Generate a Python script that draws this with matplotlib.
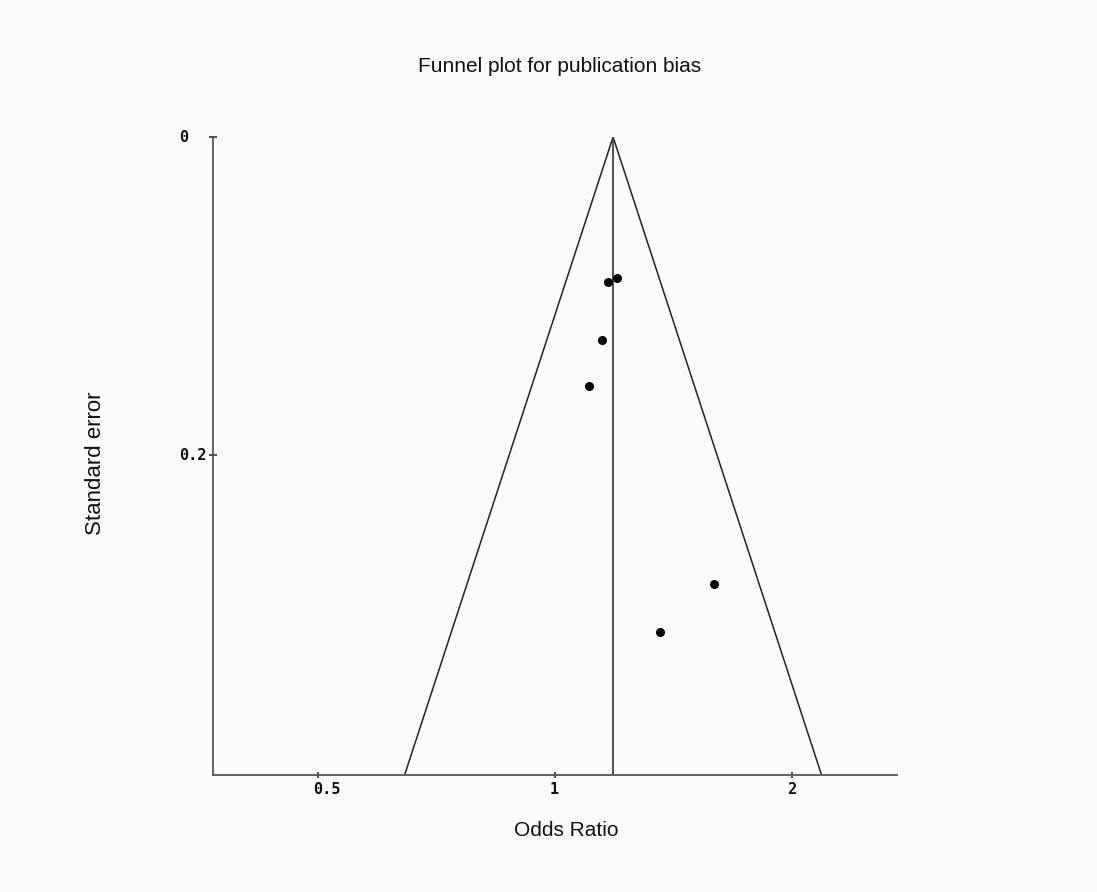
import numpy as np
import matplotlib
matplotlib.use('Agg')
import matplotlib.pyplot as plt
import matplotlib.transforms as mtransforms
from matplotlib.ticker import FixedLocator, NullLocator

# study estimates: odds ratios and their standard errors
odds_ratio = [1.166, 1.198, 1.146, 1.103, 1.591, 1.360]
std_error = [0.0914, 0.0889, 0.1275, 0.1564, 0.2807, 0.3113]

pooled_or = 1.185
funnel_k = 1.52      # half-width of the funnel in log(OR) per unit SE
se_max = 0.401

x_ticks = [0.5, 1, 2]
x_tick_labels = ['0.5', '1', '2']
y_ticks = [0, 0.2]
y_tick_labels = ['0', '0.2']

label_font = ['Liberation Sans', 'DejaVu Sans']
tick_font = dict(family='DejaVu Sans Mono', weight='bold', size=11, color='#111111')

fig = plt.figure(figsize=(10.97, 8.92), dpi=100, facecolor='#fafafa')
ax = fig.add_axes([0.1942, 0.1312, 0.6235, 0.7152])
ax.set_facecolor('#fafafa')

ax.set_xscale('log')
ax.set_xlim(np.exp(-1), np.exp(1))
ax.set_ylim(se_max, 0)

# funnel limits around the pooled estimate
se_line = np.array([0, se_max])
centre = np.log(pooled_or)
ax.plot(np.exp(centre - funnel_k * se_line), se_line, color='#222222', lw=1.1)
ax.plot(np.exp(centre + funnel_k * se_line), se_line, color='#222222', lw=1.1)
ax.plot([pooled_or, pooled_or], [0, se_max], color='#444444', lw=1.3)

ax.scatter(odds_ratio, std_error, s=30, color='black', zorder=3)

for side in ['top', 'right']:
    ax.spines[side].set_visible(False)
for side in ['left', 'bottom']:
    ax.spines[side].set_color('#555555')
    ax.spines[side].set_linewidth(1.3)

ax.xaxis.set_major_locator(FixedLocator(x_ticks))
ax.xaxis.set_minor_locator(NullLocator())
ax.set_yticks(y_ticks)
ax.tick_params(axis='x', direction='inout', length=4, width=1.1, color='#222222',
               labelbottom=False)
ax.tick_params(axis='y', direction='inout', length=6, width=1.1, color='#222222',
               labelleft=False)

# tick labels are left-aligned, the old-style way
x_trans = mtransforms.offset_copy(ax.get_xaxis_transform(), fig=fig, x=-5, y=-15, units='dots')
for val, txt in zip(x_ticks, x_tick_labels):
    ax.text(val, 0, txt, transform=x_trans, ha='left', va='center', **tick_font)
y_trans = mtransforms.offset_copy(ax.get_yaxis_transform(), fig=fig, x=-34, y=0, units='dots')
for val, txt in zip(y_ticks, y_tick_labels):
    ax.text(0, val, txt, transform=y_trans, ha='left', va='center', **tick_font)

fig.text(0.5105, 0.926, 'Funnel plot for publication bias', ha='center', va='center',
         fontsize=15, family=label_font, color='#111111')
fig.text(0.516, 0.0695, 'Odds Ratio', ha='center', va='center',
         fontsize=15, family=label_font, color='#111111')
fig.text(0.0875, 0.481, 'Standard error', ha='center', va='center', rotation=90,
         fontsize=16, family=label_font, color='#111111')

fig.savefig('out.png', dpi=100, facecolor=fig.get_facecolor())
